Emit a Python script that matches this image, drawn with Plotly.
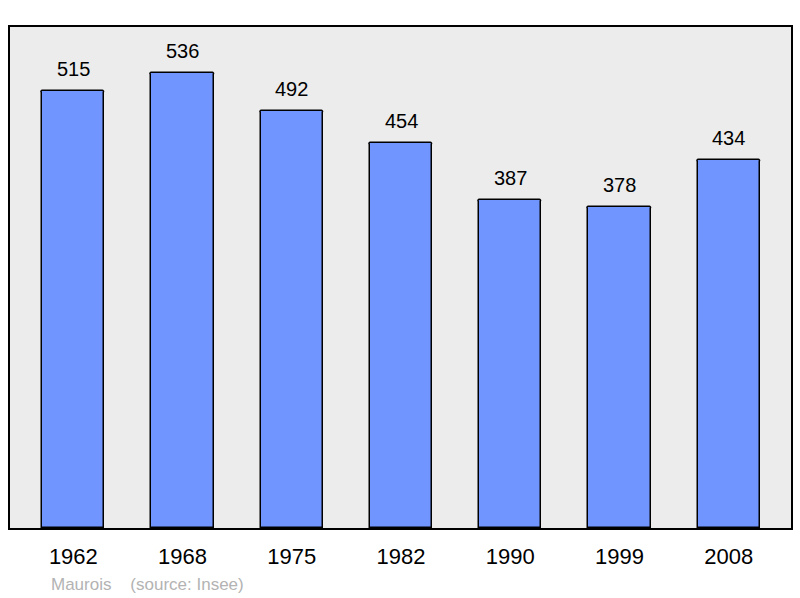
import plotly.graph_objects as go

# Population by census year
years = ["1962", "1968", "1975", "1982", "1990", "1999", "2008"]
population = [515, 536, 492, 454, 387, 378, 434]

positions = list(range(len(years)))

fig = go.Figure()
fig.add_trace(go.Bar(
    x=positions,
    y=population,
    width=0.57,
    marker=dict(color="#7095ff", line=dict(color="#000000", width=1.5), cornerradius=2),
    hoverinfo="x+y",
))

# value labels above the bars
for xp, val in zip(positions, population):
    fig.add_annotation(
        x=xp, y=val, text=str(val), showarrow=False,
        yanchor="bottom", yshift=9,
        font=dict(size=20, color="#000000"),
    )

fig.add_annotation(
    xref="paper", yref="paper", x=0.05, y=-0.112,
    xanchor="left", yanchor="middle", showarrow=False,
    text="Maurois&nbsp;&nbsp;&nbsp;&nbsp;(source: Insee)",
    font=dict(size=17, color="#b3b3b3"),
)

fig.update_xaxes(
    range=[-0.58, 6.57],
    tickmode="array", tickvals=positions, ticktext=years,
    tickfont=dict(size=22, color="#000000"),
    showgrid=False, zeroline=False,
    showline=True, linecolor="#000000", linewidth=2, mirror=True,
    ticks="", ticklabelstandoff=8,
)
fig.update_yaxes(
    range=[0, 590.5],
    showticklabels=False, showgrid=False, zeroline=False,
    showline=True, linecolor="#000000", linewidth=2, mirror=True,
)

fig.update_layout(
    width=800, height=598,
    margin=dict(l=10, r=7, t=27, b=70),
    plot_bgcolor="#ececec",
    paper_bgcolor="#ffffff",
    font=dict(family="Liberation Sans, Arial, sans-serif"),
    showlegend=False,
    bargap=0,
)

# drop the page's default body margin so the figure fills the window
fig.write_html(
    "out.html",
    config={"displayModeBar": False},
    post_script="document.body.style.margin = '0';",
)
